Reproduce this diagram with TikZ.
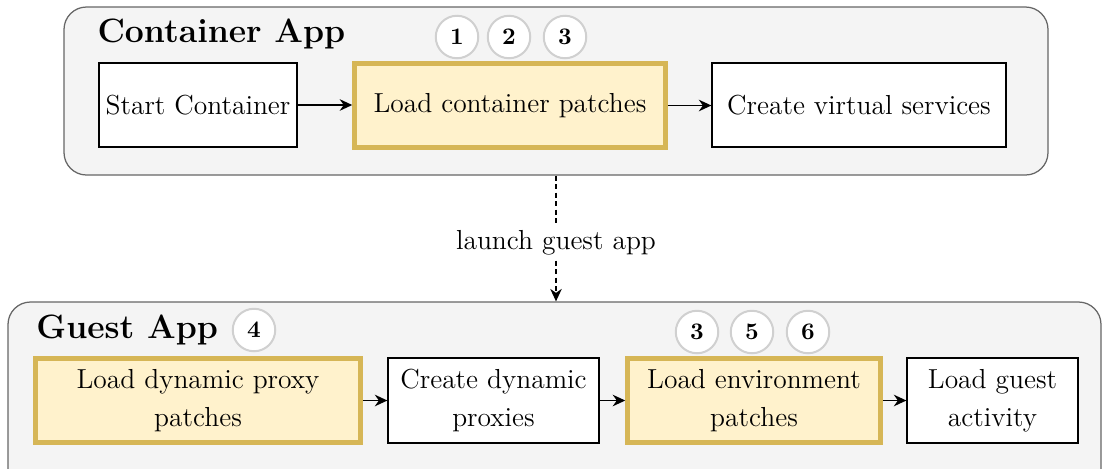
\documentclass[tikz,border=0pt]{standalone}
\usetikzlibrary{arrows.meta}
\definecolor{panelfill}{HTML}{F4F4F4}
\definecolor{paneldraw}{HTML}{666666}
\definecolor{patchfill}{HTML}{FFF2CC}
\definecolor{patchdraw}{HTML}{D6B656}
\definecolor{markdraw}{HTML}{D0D0D0}
\begin{document}
\begin{tikzpicture}[x=0.4pt,y=-0.4pt,
  dim/.style 2 args={minimum width=#1*0.4pt, minimum height=#2*0.4pt},
  panel/.style={draw=paneldraw, fill=panelfill, line width=0.5pt, rounded corners=9pt, inner sep=0pt},
  stepbox/.style={draw=black, fill=white, line width=0.5pt, inner sep=0pt, align=center,
    font=\fontsize{11}{15}\selectfont},
  patchbox/.style={stepbox, draw=patchdraw, fill=patchfill, line width=1.8pt},
  badge/.style={circle, draw=markdraw, fill=white, line width=0.8pt, minimum size=17pt, inner sep=0pt,
    font=\fontsize{9.5}{11}\selectfont\bfseries},
  title/.style={anchor=base west, inner sep=0pt, font=\fontsize{13.5}{16}\selectfont\bfseries},
  arr/.style={-{Stealth[length=5pt,width=4.6pt,inset=1.6pt]}, line width=0.75pt},
]
\useasboundingbox (0,0) rectangle (1104,468);
\begin{scope}
\clip (0,0) rectangle (1104,468);

% panels
\node[panel, dim={984}{168}] (container) at (556,91) {};
\node[panel, dim={1093}{190}] (guest) at (554.5,397) {};

% titles
\node[title] (ctitle) at (97,42) {Container App};
\node[title] (gtitle) at (36,338) {Guest App};

% container app steps
\node[stepbox, dim={198}{84}] (start) at (198,105) {Start Container};
\node[patchbox, dim={311}{84}] (loadc) at (510,105.5) {Load container patches};
\node[stepbox, dim={294}{84}] (create) at (859,105) {Create virtual services};

\node[badge] (c1) at (457,37) {1};
\node[badge] (c2) at (509,37) {2};
\node[badge] (c3) at (565,37) {3};

% guest app steps
\node[patchbox, dim={325}{84}] (ldp) at (198,400.5) {Load dynamic proxy\\patches};
\node[stepbox, dim={211}{85}] (cdp) at (493.5,400.5) {Create dynamic\\proxies};
\node[patchbox, dim={253}{84}] (lep) at (754,400.5) {Load environment\\patches};
\node[stepbox, dim={171}{85}] (lga) at (992.5,400.5) {Load guest\\activity};

\node[badge] (g4) at (254,330) {4};
\node[badge] (g3) at (697,332) {3};
\node[badge] (g5) at (752,332) {5};
\node[badge] (g6) at (808,332) {6};

% flow
\draw[arr] (start.east) -- (start.east -| loadc.west);
\draw[arr] (loadc.east) -- (loadc.east -| create.west);
\draw[arr] (ldp.east) -- (ldp.east -| cdp.west);
\draw[arr] (cdp.east) -- (cdp.east -| lep.west);
\draw[arr] (lep.east) -- (lep.east -| lga.west);

\draw[arr, line width=0.6pt, dash pattern=on 2pt off 1.4pt] (container.south) -- (container.south |- guest.north)
  node[pos=0.53, fill=white, inner sep=1.5pt, font=\fontsize{11}{13}\selectfont] (launch) {launch guest app};
\end{scope}
\end{tikzpicture}
\end{document}
